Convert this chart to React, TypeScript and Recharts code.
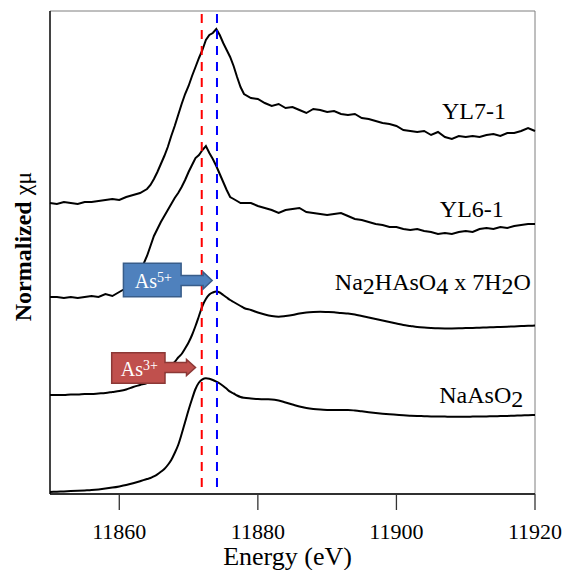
import React from "react";
import {
  LineChart,
  Line,
  XAxis,
  YAxis,
  ReferenceLine,
  ReferenceArea,
  ReferenceDot,
  Label,
} from "recharts";

// energy grid (eV), finer across the edge
const energy = [
  11850, 11851, 11852, 11853, 11854, 11855, 11856, 11857, 11858, 11859, 11860,
  11861, 11862, 11863, 11864, 11864.5, 11865, 11865.5, 11866, 11866.5, 11867,
  11867.5, 11868, 11868.5, 11869, 11869.5, 11870, 11870.5, 11871, 11871.5,
  11872, 11872.5, 11873, 11873.5, 11874, 11874.5, 11875, 11875.5, 11876,
  11876.5, 11877, 11877.5, 11878, 11879, 11880, 11881, 11882, 11883, 11884,
  11885, 11886, 11887, 11888, 11889, 11890, 11891, 11892, 11893, 11894, 11895,
  11896, 11897, 11898, 11899, 11900, 11901, 11902, 11903, 11904, 11905, 11906,
  11907, 11908, 11909, 11910, 11911, 11912, 11913, 11914, 11915, 11916, 11917,
  11918, 11919, 11920,
];

// stacked normalized spectra (offset included)
const yl71 = [
  2.91, 2.9, 2.92, 2.91, 2.9, 2.92, 2.92, 2.93, 2.94, 2.95, 2.94, 2.97, 2.99,
  3.01, 3.05, 3.09, 3.15, 3.22, 3.3, 3.38, 3.47, 3.58, 3.68, 3.79, 3.9, 4.0,
  4.08, 4.18, 4.27, 4.36, 4.44, 4.54, 4.59, 4.61, 4.65, 4.59, 4.51, 4.44, 4.37,
  4.28, 4.17, 4.07, 4.0, 3.96, 3.95, 3.91, 3.88, 3.9, 3.86, 3.87, 3.84, 3.81,
  3.85, 3.84, 3.82, 3.83, 3.8, 3.79, 3.8, 3.76, 3.75, 3.73, 3.71, 3.7, 3.68,
  3.64, 3.63, 3.62, 3.63, 3.59, 3.62, 3.57, 3.55, 3.58, 3.57, 3.58, 3.57, 3.59,
  3.6, 3.58, 3.61, 3.61, 3.63, 3.66, 3.63,
];

const yl61 = [
  1.97, 1.97, 1.96, 1.97, 1.96, 1.97, 1.98, 1.97, 2.0, 1.98, 2.02, 2.06, 2.11,
  2.22, 2.38, 2.48, 2.58, 2.65, 2.72, 2.78, 2.84, 2.9, 2.96, 3.01, 3.07, 3.14,
  3.22, 3.29, 3.36, 3.39, 3.44, 3.48, 3.41, 3.35, 3.28, 3.2, 3.12, 3.04, 2.97,
  2.95, 2.93, 2.91, 2.91, 2.91, 2.88, 2.86, 2.84, 2.81, 2.84, 2.85, 2.86, 2.82,
  2.81, 2.8, 2.79, 2.8, 2.81, 2.78, 2.75, 2.74, 2.72, 2.7, 2.69, 2.67, 2.67,
  2.65, 2.64, 2.65, 2.63, 2.62, 2.6, 2.61, 2.6, 2.62, 2.63, 2.62, 2.65, 2.66,
  2.65, 2.67, 2.66, 2.68, 2.69, 2.7, 2.7,
];

const na2HAsO4 = [
  0.99, 0.99, 0.99, 0.995, 0.995, 1.0, 1.0, 1.005, 1.01, 1.02, 1.03, 1.045,
  1.07, 1.09, 1.11, 1.125, 1.14, 1.16, 1.18, 1.21, 1.245, 1.285, 1.32, 1.365,
  1.4, 1.455, 1.515, 1.59, 1.68, 1.78, 1.88, 1.95, 1.995, 2.015, 2.025, 2.015,
  1.99, 1.965, 1.94, 1.92, 1.9, 1.88, 1.86, 1.84, 1.815, 1.795, 1.78, 1.773,
  1.78, 1.79, 1.805, 1.815, 1.82, 1.822, 1.82, 1.817, 1.81, 1.805, 1.795, 1.78,
  1.765, 1.75, 1.735, 1.72, 1.705, 1.69, 1.68, 1.67, 1.664, 1.66, 1.657, 1.656,
  1.656, 1.657, 1.659, 1.66, 1.663, 1.665, 1.668, 1.67, 1.673, 1.676, 1.679,
  1.682, 1.684,
];

const naAsO2 = [
  0.02, 0.023, 0.026, 0.029, 0.032, 0.036, 0.04, 0.046, 0.054, 0.064, 0.076,
  0.09, 0.108, 0.128, 0.15, 0.16, 0.177, 0.197, 0.222, 0.25, 0.29, 0.34, 0.41,
  0.49, 0.6, 0.72, 0.84, 0.95, 1.05, 1.115, 1.147, 1.157, 1.152, 1.14, 1.124,
  1.105, 1.08, 1.052, 1.023, 1.005, 0.985, 0.97, 0.962, 0.955, 0.95, 0.947,
  0.946, 0.935, 0.915, 0.895, 0.875, 0.86, 0.85, 0.844, 0.841, 0.84, 0.84, 0.84,
  0.835, 0.827, 0.818, 0.81, 0.803, 0.797, 0.792, 0.787, 0.783, 0.78, 0.778,
  0.776, 0.775, 0.774, 0.773, 0.773, 0.773, 0.774, 0.775, 0.776, 0.777, 0.779,
  0.781, 0.783, 0.785, 0.788, 0.79,
];

const xTicks = [11860, 11880, 11900, 11920];
const as3Edge = 11871.9;
const as5Edge = 11874.1;

const data = energy.map((e, i) => ({
  energy: e,
  yl71: yl71[i],
  yl61: yl61[i],
  na2HAsO4: na2HAsO4[i],
  naAsO2: naAsO2[i],
}));

const FONT = "Liberation Serif, DejaVu Serif, serif";

const YTitle = (props: any) => {
  const vb = props.viewBox;
  const x = vb.x + 31;
  const y = vb.y + vb.height / 2 - 6;
  return (
    <text
      transform={`translate(${x},${y}) rotate(-90)`}
      textAnchor="middle"
      fontFamily={FONT}
      fontSize={24}
      fill="#000"
    >
      <tspan fontWeight="bold">Normalized</tspan>
      <tspan> χμ</tspan>
    </text>
  );
};

const XTitle = (props: any) => {
  const vb = props.viewBox;
  return (
    <text
      x={vb.x + vb.width / 2 - 5}
      y={vb.y + vb.height - 5}
      textAnchor="middle"
      fontFamily={FONT}
      fontSize={26}
      fill="#000"
    >
      Energy (eV)
    </text>
  );
};

// text label anchored at its right end / baseline
const curveLabel = (parts: [string, boolean][]) => (p: any) => (
  <text
    x={p.cx}
    y={p.cy}
    textAnchor="end"
    fontFamily={FONT}
    fontSize={24}
    fill="#000"
    style={{ whiteSpace: "pre" }}
  >
    {parts.map(([t, low], i) => {
      const prevLow = i > 0 && parts[i - 1][1];
      const dy = low && !prevLow ? 4 : !low && prevLow ? -4 : 0;
      return (
        <tspan key={i} dy={dy}>
          {t}
        </tspan>
      );
    })}
  </text>
);

// PowerPoint-like right arrow callout, tip at (cx, cy)
const callout =
  (
    sup: string,
    fill: string,
    edge: string,
    b: { l: number; r: number; t: number; btm: number; head: number; hh: number }
  ) =>
  (p: any) => {
    const tx = p.cx;
    const ty = p.cy;
    const L = tx - b.l;
    const R = tx - b.r;
    const T = ty - b.t;
    const B = ty + b.btm;
    const hs = 5;
    const hb = tx - b.head;
    const d = `M${L},${T} H${R} V${ty - hs} H${hb} V${ty - b.hh} L${tx},${ty} L${hb},${
      ty + b.hh
    } V${ty + hs} H${R} V${B} H${L} Z`;
    return (
      <g>
        <path d={d} fill={fill} stroke={edge} strokeWidth={1.5} />
        <text
          x={(L + R) / 2 + 1}
          y={(T + B) / 2 + 7.5}
          textAnchor="middle"
          fontFamily={FONT}
          fontSize={20}
          fill="#fff"
        >
          As
          <tspan fontSize={14} dy={-6}>
            {sup}
          </tspan>
        </text>
      </g>
    );
  };

export default function App() {
  return (
    <div style={{ position: "absolute", left: 0, top: 0 }}>
      <LineChart
        width={563}
        height={570}
        data={data}
        margin={{ top: 11, right: 28, left: 0, bottom: 0 }}
      >
        <ReferenceArea
          x1={11850}
          x2={11920}
          y1={0}
          y2={4.83}
          fill="none"
          fillOpacity={0}
          stroke="#7f7f7f"
          strokeWidth={1}
        />
        <XAxis
          dataKey="energy"
          type="number"
          domain={[11850, 11920]}
          ticks={xTicks}
          height={76}
          tickSize={16}
          tickMargin={13}
          axisLine={{ stroke: "#000", strokeWidth: 1.3 }}
          tickLine={{ stroke: "#333", strokeWidth: 1.3 }}
          tick={{ fontSize: 22, fill: "#000", fontFamily: FONT }}
        >
          <Label content={XTitle} />
        </XAxis>
        <YAxis
          type="number"
          domain={[0, 4.83]}
          width={50}
          tick={false}
          tickLine={false}
          axisLine={{ stroke: "#000", strokeWidth: 1.3 }}
        >
          <Label content={YTitle} />
        </YAxis>
        <Line
          dataKey="yl71"
          type="linear"
          stroke="#000"
          strokeWidth={2}
          dot={false}
          isAnimationActive={false}
        />
        <Line
          dataKey="yl61"
          type="linear"
          stroke="#000"
          strokeWidth={2}
          dot={false}
          isAnimationActive={false}
        />
        <Line
          dataKey="na2HAsO4"
          type="monotone"
          stroke="#000"
          strokeWidth={2}
          dot={false}
          isAnimationActive={false}
        />
        <Line
          dataKey="naAsO2"
          type="monotone"
          stroke="#000"
          strokeWidth={2}
          dot={false}
          isAnimationActive={false}
        />
        <ReferenceLine
          x={as3Edge}
          stroke="#ff0000"
          strokeWidth={2}
          strokeDasharray="9 7"
          strokeDashoffset={-7}
        />
        <ReferenceLine
          x={as5Edge}
          stroke="#0000ff"
          strokeWidth={2}
          strokeDasharray="9 7"
          strokeDashoffset={-7}
        />
        <ReferenceDot
          x={11915.8}
          y={3.747}
          r={0}
          shape={curveLabel([["YL7-1", false]])}
        />
        <ReferenceDot
          x={11915.5}
          y={2.773}
          r={0}
          shape={curveLabel([["YL6-1", false]])}
        />
        <ReferenceDot
          x={11919.4}
          y={2.04}
          r={0}
          shape={curveLabel([
            ["Na", false],
            ["2", true],
            ["HAsO", false],
            ["4", true],
            [" x 7H", false],
            ["2", true],
            ["O", false],
          ])}
        />
        <ReferenceDot
          x={11918.3}
          y={0.913}
          r={0}
          shape={curveLabel([
            ["NaAsO", false],
            ["2", true],
          ])}
        />
        <ReferenceDot
          x={11873.4}
          y={2.135}
          r={0}
          shape={callout("5+", "#4f81bd", "#385d8a", {
            l: 88.7,
            r: 31,
            t: 17.2,
            btm: 16.2,
            head: 9,
            hh: 8.5,
          })}
        />
        <ReferenceDot
          x={11871}
          y={1.265}
          r={0}
          shape={callout("3+", "#c0504d", "#8c3836", {
            l: 83.8,
            r: 30.5,
            t: 14.8,
            btm: 15.8,
            head: 9,
            hh: 8,
          })}
        />
      </LineChart>
    </div>
  );
}
